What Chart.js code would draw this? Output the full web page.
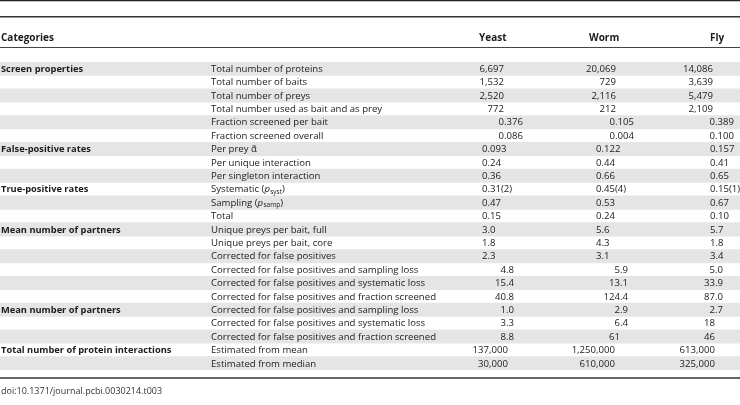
<!DOCTYPE html>
<html>
<head>
<meta charset="utf-8">
<script src="https://cdn.jsdelivr.net/npm/chart.js@4.4.1/dist/chart.umd.min.js"></script>
<style>
  html, body { margin: 0; padding: 0; background: #fff; }
  #wrap { width: 740px; height: 405px; position: relative; }
</style>
</head>
<body>
<div id="wrap"><canvas id="tableChart"></canvas></div>
<script>
// table content
const headers = ['Categories', 'Yeast', 'Worm', 'Fly'];

const groups = [
  'Screen properties', '', '', '', '', '',
  'False-positive rates', '', '',
  'True-positive rates', '', '',
  'Mean number of partners', '', '', '', '', '',
  'Mean number of partners', '', '',
  'Total number of protein interactions', ''
];

const measures = [
  'Total number of proteins',
  'Total number of baits',
  'Total number of preys',
  'Total number used as bait and as prey',
  'Fraction screened per bait',
  'Fraction screened overall',
  'Per prey \u03b1\u0303',
  'Per unique interaction',
  'Per singleton interaction',
  'Systematic (p_{syst})',
  'Sampling (p_{samp})',
  'Total',
  'Unique preys per bait, full',
  'Unique preys per bait, core',
  'Corrected for false positives',
  'Corrected for false positives and sampling loss',
  'Corrected for false positives and systematic loss',
  'Corrected for false positives and fraction screened',
  'Corrected for false positives and sampling loss',
  'Corrected for false positives and systematic loss',
  'Corrected for false positives and fraction screened',
  'Estimated from mean',
  'Estimated from median'
];

const yeast = ['6,697', '1,532', '2,520', '772', '0.376', '0.086', '0.093', '0.24', '0.36',
  '0.31(2)', '0.47', '0.15', '3.0', '1.8', '2.3', '4.8', '15.4', '40.8', '1.0', '3.3', '8.8',
  '137,000', '30,000'];
const worm = ['20,069', '729', '2,116', '212', '0.105', '0.004', '0.122', '0.44', '0.66',
  '0.45(4)', '0.53', '0.24', '5.6', '4.3', '3.1', '5.9', '13.1', '124.4', '2.9', '6.4', '61',
  '1,250,000', '610,000'];
const fly = ['14,086', '3,639', '5,479', '2,109', '0.389', '0.100', '0.157', '0.41', '0.65',
  '0.15(1)', '0.67', '0.10', '5.7', '1.8', '3.4', '5.0', '33.9', '87.0', '2.7', '18', '46',
  '613,000', '325,000'];

const source = 'doi:10.1371/journal.pcbi.0030214.t003';

// layout (x in scale units, which are page pixels here)
const WIDTH = 740;
const FONT = '"Open Sans", "Noto Sans", sans-serif';
const FS = 9.6;
const FS_BOLD = 9.3;
const TXT = '#1e1a1b';
const groupX = 1;
const measureX = 211;
const headerX = [1, 479, 589, 710];

// how the value columns line up, block by block
const blocks = [
  { from: 0, to: 3, mode: 'right', at: [504, 616, 713] },
  { from: 4, to: 5, mode: 'right', at: [523, 634, 734] },
  { from: 6, to: 14, mode: 'left', at: [482, 596, 710] },
  { from: 15, to: 20, mode: 'decimal', at: [506, 620, 715] },
  { from: 21, to: 22, mode: 'right', at: [508, 615, 715] }
];

// every other row is shaded, across the whole width
const shade = measures.map((m, i) => i % 2 === 0 ? [0, WIDTH] : null);

function font(bold, size) {
  return (bold ? 'bold ' : '') + (size || (bold ? FS_BOLD : FS)) + 'px ' + FONT;
}

function drawRich(ctx, str, x, y) {
  // "p_{syst}" -> italic p with subscript
  const parts = str.split(/p_\{(\w+)\}/);
  ctx.textAlign = 'left';
  parts.forEach((part, i) => {
    if (i % 2 === 0) {
      ctx.font = font(false);
      ctx.fillText(part, x, y);
      x += ctx.measureText(part).width;
    } else {
      ctx.font = 'italic ' + FS + 'px ' + FONT;
      ctx.fillText('p', x, y);
      x += ctx.measureText('p').width + 0.3;
      ctx.font = '6.5px ' + FONT;
      ctx.fillText(part, x, y + 2.5);
      x += ctx.measureText(part).width;
    }
  });
}

function drawValue(ctx, str, x, y, mode) {
  ctx.font = font(false);
  if (mode === 'decimal') {
    const dot = str.indexOf('.');
    ctx.textAlign = 'right';
    if (dot < 0) {
      ctx.fillText(str, x, y);
    } else {
      ctx.fillText(str.slice(0, dot), x, y);
      ctx.textAlign = 'left';
      ctx.fillText(str.slice(dot), x, y);
    }
  } else {
    ctx.textAlign = mode;
    ctx.fillText(str, x, y);
  }
}

function hline(ctx, y, w, color) {
  ctx.beginPath();
  ctx.lineWidth = w;
  ctx.strokeStyle = color;
  ctx.moveTo(0, y);
  ctx.lineTo(WIDTH, y);
  ctx.stroke();
}

const tablePlugin = {
  id: 'tableText',
  afterDatasetsDraw(chart) {
    const ctx = chart.ctx;
    const xs = chart.scales.x;
    const ys = chart.scales.y;
    const cols = [yeast, worm, fly];

    ctx.save();
    ctx.fillStyle = TXT;
    ctx.textBaseline = 'middle';

    // rules
    hline(ctx, 0.6, 1.4, '#222');
    hline(ctx, 16.8, 1.4, '#333');
    hline(ctx, 47.5, 1, '#444');
    hline(ctx, 378, 1.4, '#333');

    // header row
    ctx.font = font(true, 10);
    ctx.textAlign = 'left';
    headers.forEach((h, i) => ctx.fillText(h, xs.getPixelForValue(headerX[i]), 38));

    // body
    measures.forEach((m, i) => {
      const y = ys.getPixelForValue(i) + 0.5;
      if (groups[i]) {
        ctx.font = font(true);
        ctx.textAlign = 'left';
        ctx.fillText(groups[i], xs.getPixelForValue(groupX), y);
      }
      drawRich(ctx, m, xs.getPixelForValue(measureX), y);
      const b = blocks.find(bl => i >= bl.from && i <= bl.to);
      cols.forEach((col, c) => drawValue(ctx, col[i], xs.getPixelForValue(b.at[c]), y, b.mode));
    });

    // source line
    ctx.font = font(false, 9);
    ctx.fillStyle = '#333';
    ctx.textAlign = 'left';
    ctx.fillText(source, 1, 391);
    ctx.restore();
  }
};

function build() {
  const ctx = document.getElementById('tableChart').getContext('2d');
  new Chart(ctx, {
    type: 'bar',
    data: {
      labels: measures,
      datasets: [{
        data: shade,
        backgroundColor: '#e5e5e5',
        borderWidth: 0,
        barPercentage: 1,
        categoryPercentage: 1
      }]
    },
    options: {
      indexAxis: 'y',
      responsive: true,
      maintainAspectRatio: false,
      animation: false,
      layout: { padding: { top: 62, bottom: 35, left: 0, right: 0 } },
      scales: {
        x: { type: 'linear', min: 0, max: WIDTH, display: false },
        y: { display: false }
      },
      plugins: {
        legend: { display: false },
        tooltip: { enabled: false }
      }
    },
    plugins: [tablePlugin]
  });
}

if (document.fonts && document.fonts.load) {
  Promise.all([
    document.fonts.load(font(false)),
    document.fonts.load(font(true))
  ]).then(build, build);
} else {
  build();
}
</script>
</body>
</html>
